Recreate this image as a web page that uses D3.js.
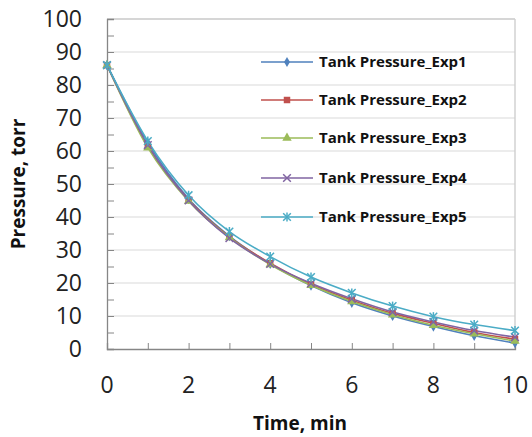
<!DOCTYPE html>
<html>
<head>
<meta charset="utf-8">
<script src="https://cdn.jsdelivr.net/npm/d3@7"></script>
<style>
  body { margin: 0; background: #fff; }
  svg { display: block; font-family: "Open Sans", "Liberation Sans", sans-serif; }
</style>
</head>
<body>
<svg id="chart"></svg>
<script>
// dados
const tempos = [0, 1, 2, 3, 4, 5, 6, 7, 8, 9, 10];
const series_nomes = ["Tank Pressure_Exp1", "Tank Pressure_Exp2", "Tank Pressure_Exp3",
                      "Tank Pressure_Exp4", "Tank Pressure_Exp5"];
const exp1 = [86, 62.5, 45.5, 34.2, 25.8, 19.2, 14.0, 10.0, 6.8, 4.0, 1.8];
const exp2 = [86, 61.5, 45.2, 34.0, 26.0, 19.6, 14.8, 10.8, 7.8, 5.0, 3.0];
const exp3 = [86, 61.0, 44.8, 33.8, 25.6, 19.3, 14.4, 10.4, 7.2, 4.6, 2.4];
const exp4 = [86, 61.8, 45.0, 33.6, 25.8, 19.9, 15.2, 11.2, 8.2, 5.6, 3.6];
const exp5 = [86, 63.0, 46.6, 35.6, 28.0, 21.8, 17.0, 13.0, 9.8, 7.4, 5.6];
const y_ticks = [0, 10, 20, 30, 40, 50, 60, 70, 80, 90, 100];
const x_ticks = [0, 2, 4, 6, 8, 10];

const cores = ["#4F81BD", "#C0504D", "#9BBB59", "#8064A2", "#4BACC6"];
const simbolos = ["diamond", "square", "triangle", "x", "star"];

const w = 532, h = 437;
const margin = { top: 19, right: 17, bottom: 88, left: 107 };

const $svg = d3.select("#chart").attr("width", w).attr("height", h);

const x = d3.scaleLinear().domain([0, 10]).range([margin.left, w - margin.right]);
const y = d3.scaleLinear().domain([0, 100]).range([h - margin.bottom, margin.top]);

// grade horizontal
$svg.append("g")
  .selectAll("line")
  .data(y_ticks.slice(1))
  .enter().append("line")
  .attr("x1", x(0)).attr("x2", x(10))
  .attr("y1", d => y(d)).attr("y2", d => y(d))
  .attr("stroke", "#d9d9d9").attr("stroke-width", 1.2);

// borda direita e topo
$svg.append("line")
  .attr("x1", x(10)).attr("x2", x(10)).attr("y1", y(0)).attr("y2", y(100))
  .attr("stroke", "#cfcfcf").attr("stroke-width", 1.4);
$svg.append("line")
  .attr("x1", x(0)).attr("x2", x(10)).attr("y1", y(100)).attr("y2", y(100))
  .attr("stroke", "#cfcfcf").attr("stroke-width", 1.4);

// eixo y
const eixo_y = $svg.append("g")
  .attr("transform", `translate(${x(0)},0)`)
  .call(d3.axisRight(y).tickValues(d3.range(0, 101, 5)).tickSize(7).tickFormat(""));
eixo_y.select(".domain").attr("stroke", "#868686").attr("stroke-width", 1.3);
eixo_y.selectAll(".tick line").attr("stroke", "#868686");

$svg.append("g")
  .selectAll("text")
  .data(y_ticks)
  .enter().append("text")
  .attr("x", 82).attr("y", d => y(d))
  .attr("dy", "0.36em")
  .attr("text-anchor", "end")
  .attr("font-size", 23).attr("fill", "#222")
  .text(d => d);

// eixo x
const eixo_x = $svg.append("g")
  .attr("transform", `translate(0,${y(0)})`)
  .call(d3.axisTop(x).tickValues(tempos).tickSize(6).tickFormat(""));
eixo_x.select(".domain").attr("stroke", "#868686").attr("stroke-width", 1.3);
eixo_x.selectAll(".tick line").attr("stroke", "#868686");

$svg.append("g")
  .selectAll("text")
  .data(x_ticks)
  .enter().append("text")
  .attr("x", d => x(d)).attr("y", 393)
  .attr("text-anchor", "middle")
  .attr("font-size", 23).attr("fill", "#222")
  .text(d => d);

// titulos dos eixos
$svg.append("text")
  .attr("x", 300).attr("y", 430)
  .attr("text-anchor", "middle")
  .attr("font-size", 19).attr("font-weight", "bold").attr("fill", "#111")
  .text("Time, min");

$svg.append("text")
  .attr("transform", `translate(25,${(y(0) + y(100)) / 2}) rotate(-90)`)
  .attr("text-anchor", "middle")
  .attr("font-size", 19).attr("font-weight", "bold").attr("fill", "#111")
  .text("Pressure, torr");

// marcadores
const desenha_marcador = function(sel, tipo, cor) {
  if (tipo == "diamond") {
    sel.append("path").attr("d", d3.symbol(d3.symbolDiamond, 30)())
      .attr("fill", cor);
  } else if (tipo == "square") {
    sel.append("path").attr("d", d3.symbol(d3.symbolSquare, 42)())
      .attr("fill", cor);
  } else if (tipo == "triangle") {
    sel.append("path").attr("d", d3.symbol(d3.symbolTriangle, 38)())
      .attr("fill", cor);
  } else if (tipo == "x") {
    sel.append("path").attr("d", d3.symbol(d3.symbolX, 40)())
      .attr("fill", "none").attr("stroke", cor).attr("stroke-width", 1.5);
  } else {
    sel.append("path").attr("d", d3.symbol(d3.symbolX, 40)())
      .attr("fill", "none").attr("stroke", cor).attr("stroke-width", 1.5);
    sel.append("line").attr("x1", 0).attr("x2", 0).attr("y1", -4.5).attr("y2", 4.5)
      .attr("stroke", cor).attr("stroke-width", 1.5);
  }
};

const todas = [exp1, exp2, exp3, exp4, exp5];
const linha = d3.line()
  .x((d, i) => x(tempos[i]))
  .y(d => y(d))
  .curve(d3.curveMonotoneX);

todas.forEach(function(valores, k) {
  $svg.append("path")
    .datum(valores)
    .attr("d", linha)
    .attr("fill", "none")
    .attr("stroke", cores[k])
    .attr("stroke-width", 1.6);
});

todas.forEach(function(valores, k) {
  const g = $svg.append("g");
  valores.forEach(function(v, i) {
    const m = g.append("g").attr("transform", `translate(${x(tempos[i])},${y(v)})`);
    desenha_marcador(m, simbolos[k], cores[k]);
  });
});

// legenda
const leg_y = [62, 100, 138, 178, 217];
series_nomes.forEach(function(nome, k) {
  const g = $svg.append("g").attr("transform", `translate(261,${leg_y[k]})`);
  g.append("line").attr("x1", 0).attr("x2", 52).attr("y1", 0).attr("y2", 0)
    .attr("stroke", cores[k]).attr("stroke-width", 1.6);
  const m = g.append("g").attr("transform", "translate(26,0)");
  desenha_marcador(m, simbolos[k], cores[k]);
  g.append("text").attr("x", 58).attr("dy", "0.36em")
    .attr("font-size", 15).attr("font-weight", "bold").attr("fill", "#111")
    .text(nome);
});
</script>
</body>
</html>
